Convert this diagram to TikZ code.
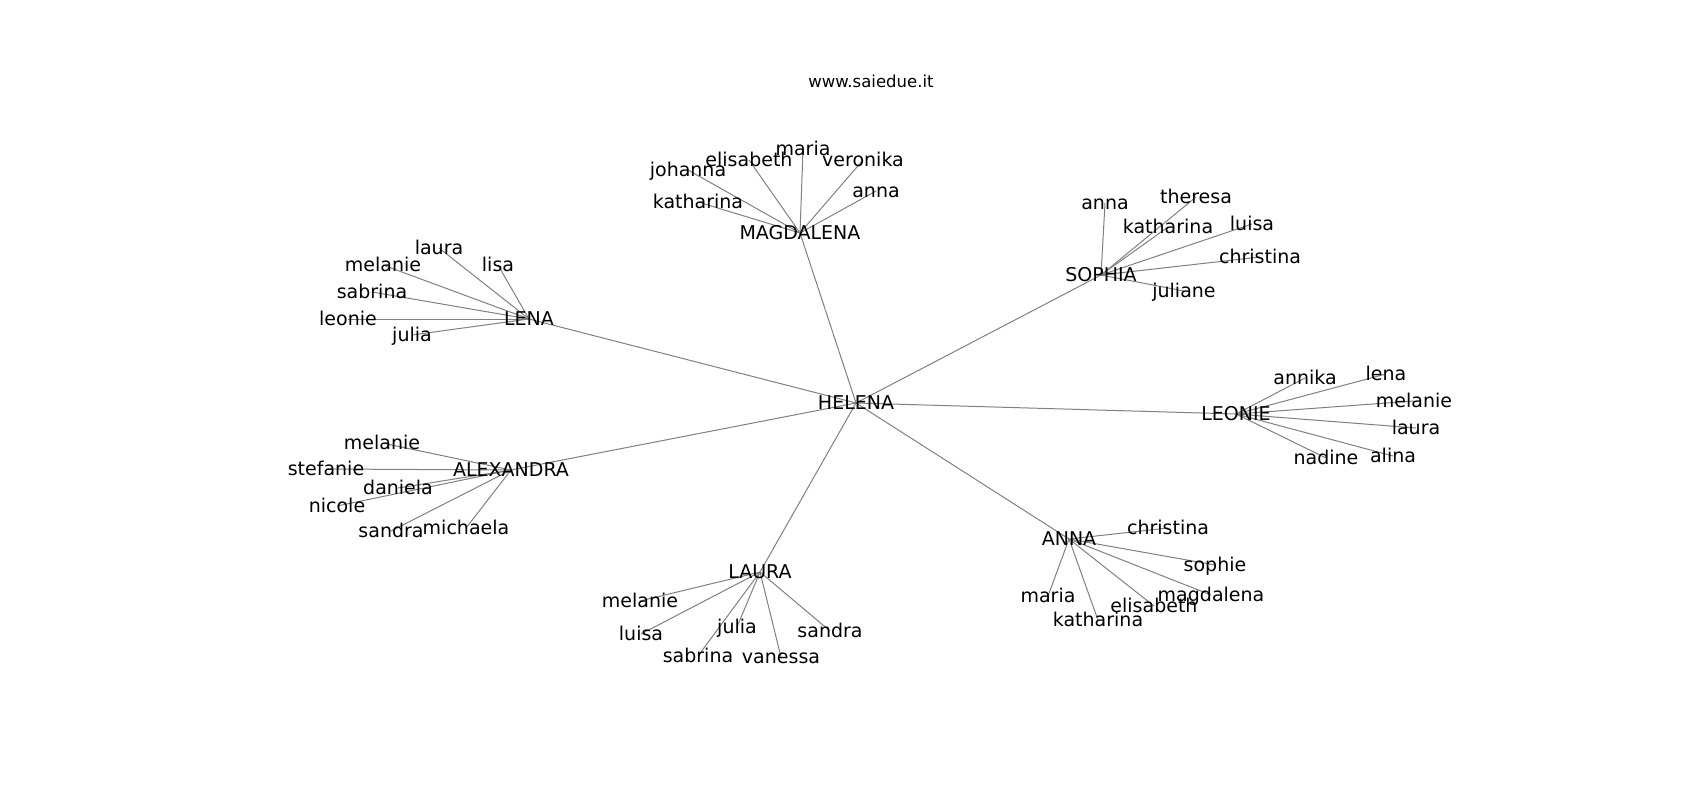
\documentclass[tikz,border=0pt]{standalone}
\usepackage{fontspec}
\setmainfont{DejaVu Sans}
\usetikzlibrary{backgrounds}
\tikzset{
  nm/.style={inner sep=0pt, anchor=center, text height=13.85pt, text depth=0pt, font=\fontsize{19}{19}\selectfont, text=black},
  edge/.style={draw=black!50, line width=1pt},
  ttl/.style={inner sep=0pt, anchor=center, font=\fontsize{16.5}{16.5}\selectfont, text=black}
}
\begin{document}
\begin{tikzpicture}[x=1pt,y=-1pt]
\useasboundingbox (0,0) rectangle (1700,800);
\node[ttl] (title) at (871,81) {www.saiedue.it};
% hubs
\node[nm] (hel) at (856,403) {HELENA};
\node[nm] (mag) at (800,233) {MAGDALENA};
\node[nm] (sop) at (1101,275) {SOPHIA};
\node[nm] (len) at (529,319) {LENA};
\node[nm] (leo) at (1236,414) {LEONIE};
\node[nm] (ale) at (511,470) {ALEXANDRA};
\node[nm] (lau) at (760,572) {LAURA};
\node[nm] (ann) at (1069,539) {ANNA};
% MAGDALENA leaves
\node[nm] (mag-joh) at (688,170) {johanna};
\node[nm] (mag-eli) at (749,160) {elisabeth};
\node[nm] (mag-mar) at (803,149) {maria};
\node[nm] (mag-ver) at (863,160) {veronika};
\node[nm] (mag-ann) at (876,191) {anna};
\node[nm] (mag-kat) at (698,202) {katharina};
% SOPHIA leaves
\node[nm] (sop-ann) at (1105,203) {anna};
\node[nm] (sop-the) at (1196,197) {theresa};
\node[nm] (sop-kat) at (1168,227) {katharina};
\node[nm] (sop-lui) at (1252,224) {luisa};
\node[nm] (sop-chr) at (1260,257) {christina};
\node[nm] (sop-jul) at (1184,291) {juliane};
% LENA leaves
\node[nm] (len-lau) at (439,248) {laura};
\node[nm] (len-lis) at (498,265) {lisa};
\node[nm] (len-mel) at (383,265) {melanie};
\node[nm] (len-sab) at (372,292) {sabrina};
\node[nm] (len-leo) at (348,319) {leonie};
\node[nm] (len-jul) at (412,335) {julia};
% LEONIE leaves
\node[nm] (leo-ann) at (1305,378) {annika};
\node[nm] (leo-len) at (1386,374) {lena};
\node[nm] (leo-mel) at (1414,401) {melanie};
\node[nm] (leo-lau) at (1416,428) {laura};
\node[nm] (leo-ali) at (1393,456) {alina};
\node[nm] (leo-nad) at (1326,458) {nadine};
% ALEXANDRA leaves
\node[nm] (ale-mel) at (382,443) {melanie};
\node[nm] (ale-ste) at (326,469) {stefanie};
\node[nm] (ale-dan) at (398,488) {daniela};
\node[nm] (ale-nic) at (337,506) {nicole};
\node[nm] (ale-san) at (391,531) {sandra};
\node[nm] (ale-mic) at (466,528) {michaela};
% LAURA leaves
\node[nm] (lau-mel) at (640,601) {melanie};
\node[nm] (lau-lui) at (641,634) {luisa};
\node[nm] (lau-jul) at (737,627) {julia};
\node[nm] (lau-sab) at (698,656) {sabrina};
\node[nm] (lau-van) at (781,657) {vanessa};
\node[nm] (lau-san) at (830,631) {sandra};
% ANNA leaves
\node[nm] (ann-chr) at (1168,528) {christina};
\node[nm] (ann-sop) at (1215,565) {sophie};
\node[nm] (ann-mag) at (1211,595) {magdalena};
\node[nm] (ann-eli) at (1154,606) {elisabeth};
\node[nm] (ann-kat) at (1098,620) {katharina};
\node[nm] (ann-mar) at (1048,596) {maria};
\begin{scope}[on background layer]
\foreach \h in {mag,sop,len,leo,ale,lau,ann}{
  \draw[edge] (hel.center) -- (\h.center);
}
\foreach \l in {joh,eli,mar,ver,ann,kat}{\draw[edge] (mag.center) -- (mag-\l.center);}
\foreach \l in {ann,the,kat,lui,chr,jul}{\draw[edge] (sop.center) -- (sop-\l.center);}
\foreach \l in {lau,lis,mel,sab,leo,jul}{\draw[edge] (len.center) -- (len-\l.center);}
\foreach \l in {ann,len,mel,lau,ali,nad}{\draw[edge] (leo.center) -- (leo-\l.center);}
\foreach \l in {mel,ste,dan,nic,san,mic}{\draw[edge] (ale.center) -- (ale-\l.center);}
\foreach \l in {mel,lui,jul,sab,van,san}{\draw[edge] (lau.center) -- (lau-\l.center);}
\foreach \l in {chr,sop,mag,eli,kat,mar}{\draw[edge] (ann.center) -- (ann-\l.center);}
\end{scope}
\end{tikzpicture}
\end{document}
